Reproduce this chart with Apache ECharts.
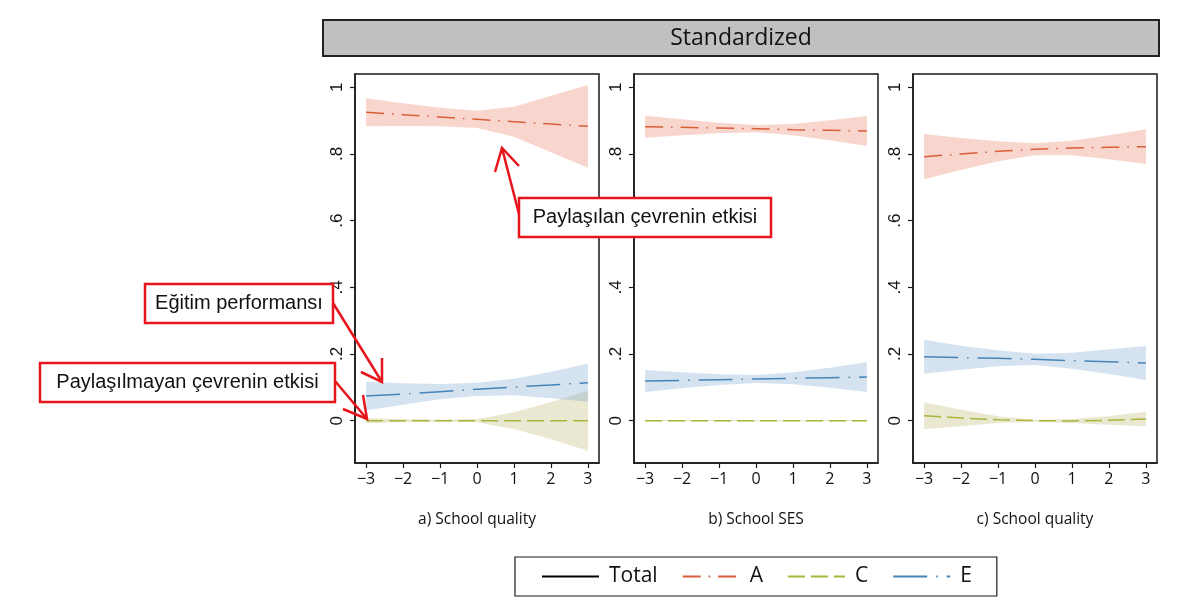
<!DOCTYPE html>
<html lang="en">
<head>
<meta charset="UTF-8">
<title>Standardized</title>
<script src="https://cdn.jsdelivr.net/npm/echarts@6/dist/echarts.min.js"></script>
<style>
  html, body { margin: 0; padding: 0; background: #fff; }
  #main { width: 1200px; height: 612px; }
</style>
</head>
<body>
<div id="main"></div>
<script>
// x positions and ticks
var xs = [-3, -2, -1, 0, 1, 2, 3];
var yTicks = [0, 0.2, 0.4, 0.6, 0.8, 1];
var panelNames = ['a) School quality', 'b) School SES', 'c) School quality'];

// panel a - estimates and half-width of the CI
var meanA_a = [0.925, 0.918, 0.911, 0.904, 0.897, 0.890, 0.883];
var ciA_a   = [0.042, 0.034, 0.028, 0.026, 0.045, 0.085, 0.124];
var meanC_a = [0.000, 0.000, 0.000, 0.000, 0.000, 0.000, 0.000];
var ciC_a   = [0.008, 0.005, 0.003, 0.005, 0.025, 0.056, 0.090];
var meanE_a = [0.074, 0.080, 0.087, 0.094, 0.101, 0.107, 0.114];
var ciE_a   = [0.043, 0.032, 0.023, 0.020, 0.025, 0.040, 0.057];

// panel b
var meanA_b = [0.882, 0.880, 0.878, 0.876, 0.873, 0.871, 0.869];
var ciA_b   = [0.033, 0.024, 0.016, 0.011, 0.017, 0.030, 0.045];
var meanC_b = [0.000, 0.000, 0.000, 0.000, 0.000, 0.000, 0.000];
var ciC_b   = [0.002, 0.002, 0.002, 0.002, 0.002, 0.002, 0.002];
var meanE_b = [0.119, 0.121, 0.123, 0.125, 0.127, 0.129, 0.131];
var ciE_b   = [0.033, 0.024, 0.016, 0.012, 0.018, 0.030, 0.045];

// panel c
var meanA_c = [0.792, 0.800, 0.808, 0.814, 0.818, 0.820, 0.822];
var ciA_c   = [0.068, 0.048, 0.030, 0.018, 0.022, 0.036, 0.052];
var meanC_c = [0.015, 0.008, 0.003, 0.000, -0.001, 0.001, 0.005];
var ciC_c   = [0.040, 0.025, 0.010, 0.003, 0.006, 0.013, 0.022];
var meanE_c = [0.192, 0.189, 0.187, 0.184, 0.180, 0.177, 0.173];
var ciE_c   = [0.051, 0.036, 0.024, 0.017, 0.024, 0.037, 0.051];

var totalData = []; // not drawn, legend only

var panels = [
  { A: [meanA_a, ciA_a], C: [meanC_a, ciC_a], E: [meanE_a, ciE_a] },
  { A: [meanA_b, ciA_b], C: [meanC_b, ciC_b], E: [meanE_b, ciE_b] },
  { A: [meanA_c, ciA_c], C: [meanC_c, ciC_c], E: [meanE_c, ciE_c] }
];

var comps = {
  A: { color: '#d95f3a', band: 'rgba(234,118,88,0.30)', dash: [18, 8, 1.5, 8] },
  C: { color: '#aab53a', band: 'rgba(190,180,105,0.30)', dash: [17, 6] },
  E: { color: '#4683b6', band: 'rgba(98,152,204,0.27)', dash: [34, 9, 1.5, 9] }
};
var bandOrder = ['C', 'A', 'E'];
var lineOrder = ['A', 'C', 'E'];

var gridLefts = [355, 634, 913];

function fmtX(v) { return v < 0 ? '\u2212' + (-v) : String(v); }
function fmtY(v) {
  if (v === 0) return '0';
  if (v === 1) return '1';
  return String(+v.toFixed(1)).replace(/^0/, '');
}

// band polygon drawn from [x, lo, hi] rows
function bandRender(color) {
  return function (params, api) {
    if (params.dataIndex !== 0) return null;
    var n = params.dataInsideLength;
    var top = [], bot = [];
    for (var i = 0; i < n; i++) {
      top.push(api.coord([api.value(0, i), api.value(2, i)]));
      bot.push(api.coord([api.value(0, i), api.value(1, i)]));
    }
    return {
      type: 'polygon',
      shape: { points: top.concat(bot.reverse()) },
      style: { fill: color, stroke: null }
    };
  };
}

var grids = [], xAxes = [], yAxes = [], series = [];
gridLefts.forEach(function (left, p) {
  grids.push({ left: left, top: 74, width: 244, height: 389, show: true,
    borderColor: '#1a1a1a', borderWidth: 1.5, backgroundColor: 'transparent' });
  xAxes.push({
    type: 'value', gridIndex: p, min: -3.3, max: 3.3,
    name: panelNames[p], nameLocation: 'middle', nameGap: 49,
    nameTextStyle: { fontFamily: 'Open Sans', fontSize: 15.5, color: '#111' },
    splitLine: { show: false },
    axisLine: { onZero: false, lineStyle: { color: '#1a1a1a', width: 1.5 } },
    axisTick: { customValues: xs, length: 5, lineStyle: { color: '#1a1a1a', width: 1.2 } },
    axisLabel: { customValues: xs, formatter: fmtX, margin: 8,
      fontFamily: 'Open Sans', fontSize: 16, color: '#111' }
  });
  yAxes.push({
    type: 'value', gridIndex: p, min: -0.127, max: 1.04,
    splitLine: { show: false },
    axisLine: { show: true, onZero: false, lineStyle: { color: '#1a1a1a', width: 1.5 } },
    axisTick: { customValues: yTicks, length: 5, lineStyle: { color: '#1a1a1a', width: 1.2 } },
    axisLabel: { customValues: yTicks, formatter: fmtY, rotate: 90, margin: 9,
      fontFamily: 'Liberation Sans', fontSize: 17, color: '#111' }
  });

  // confidence bands
  bandOrder.forEach(function (k) {
    var mean = panels[p][k][0], ci = panels[p][k][1];
    series.push({
      type: 'custom', name: 'band' + p + k, xAxisIndex: p, yAxisIndex: p,
      silent: true, renderItem: bandRender(comps[k].band),
      encode: { x: 0, y: [1, 2] },
      data: xs.map(function (x, i) { return [x, mean[i] - ci[i], mean[i] + ci[i]]; })
    });
  });

  // point estimates
  lineOrder.forEach(function (k) {
    var mean = panels[p][k][0];
    series.push({
      type: 'line', name: k, xAxisIndex: p, yAxisIndex: p, symbol: 'none',
      color: comps[k].color,
      lineStyle: { color: comps[k].color, width: 1.5, type: comps[k].dash },
      data: xs.map(function (x, i) { return [x, mean[i]]; })
    });
  });
});

series.push({
  type: 'line', name: 'Total', xAxisIndex: 0, yAxisIndex: 0, symbol: 'none',
  color: '#000', lineStyle: { color: '#000', width: 1.5, type: 'solid' },
  data: totalData
});

// annotation boxes and arrows
function arrow(x1, y1, x2, y2, w1, w2) {
  return [
    { type: 'line', z: 100, shape: { x1: x1, y1: y1, x2: x2, y2: y2 },
      style: { stroke: '#e8141b', lineWidth: 2.5 } },
    { type: 'polyline', z: 100, shape: { points: [w1, [x2, y2], w2] },
      style: { stroke: '#e8141b', lineWidth: 2.5, fill: null } }
  ];
}
function labelBox(x, y, w, h, text) {
  return [
    { type: 'rect', z: 101, shape: { x: x, y: y, width: w, height: h },
      style: { fill: '#fff', stroke: '#e8141b', lineWidth: 2.5 } },
    { type: 'text', z: 102, x: x + w / 2, y: y + h / 2,
      style: { text: text, fill: '#111', font: '20px "Liberation Sans"',
        align: 'center', verticalAlign: 'middle' } }
  ];
}

var graphics = [
  { type: 'rect', z: 50, shape: { x: 323, y: 20, width: 836, height: 36 },
    style: { fill: '#c0c0c0', stroke: '#222', lineWidth: 2 } },
  { type: 'text', z: 51, x: 741, y: 38,
    style: { text: 'Standardized', fill: '#111', font: '23px "Open Sans"',
      align: 'center', verticalAlign: 'middle' } }
]
  .concat(arrow(519, 214, 502, 148, [495, 172], [519, 166]))
  .concat(labelBox(519, 198, 252, 39, 'Paylaşılan çevrenin etkisi'))
  .concat(arrow(333, 303, 382, 382, [382, 358], [361, 372]))
  .concat(labelBox(145, 284, 188, 39, 'Eğitim performansı'))
  .concat(arrow(335, 381, 367, 419, [363, 395], [343, 409]))
  .concat(labelBox(40, 363, 295, 39, 'Paylaşılmayan çevrenin etkisi'));

var chart = echarts.init(document.getElementById('main'));
chart.setOption({
  animation: false,
  backgroundColor: '#fff',
  grid: grids,
  xAxis: xAxes,
  yAxis: yAxes,
  legend: {
    data: ['Total', 'A', 'C', 'E'],
    left: 515, top: 557,
    padding: [9, 25, 9, 26],
    itemWidth: 57, itemHeight: 14, itemGap: 24,
    itemStyle: { opacity: 0 },
    borderColor: '#1a1a1a', borderWidth: 1.2,
    textStyle: { fontFamily: 'Open Sans', fontSize: 21, color: '#111', padding: [0, 0, 0, 5] }
  },
  series: series,
  graphic: graphics
});
</script>
</body>
</html>
